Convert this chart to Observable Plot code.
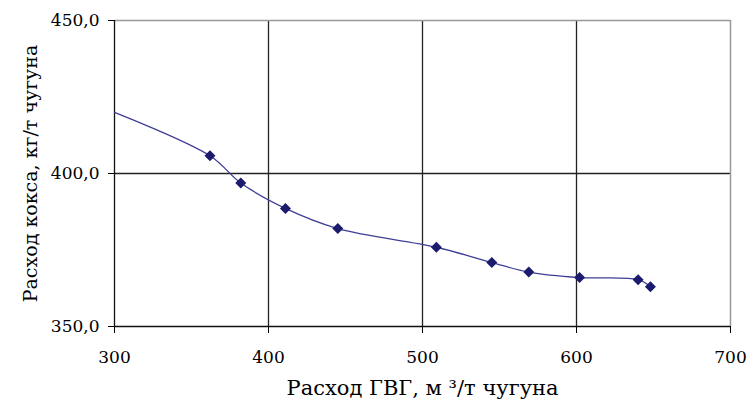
<!DOCTYPE html>
<html>
<head>
<meta charset="utf-8">
<script src="https://cdn.jsdelivr.net/npm/d3@7"></script>
<script src="https://cdn.jsdelivr.net/npm/@observablehq/plot@0.6"></script>
<style>
  html, body { margin: 0; padding: 0; background: #fff; }
</style>
</head>
<body>
<div id="chart"></div>
<script>
// Data
const gvg  = [300, 362, 382, 411, 445, 509, 545, 569, 602, 640, 648];   // Расход ГВГ, м³/т чугуна
const coke = [420, 405.8, 396.9, 388.6, 382, 375.9, 370.9, 367.8, 366, 365.3, 363]; // Расход кокса, кг/т
const markerFrom = 1; // first point is the line start without a marker
const xTicks = [300, 400, 500, 600, 700];
const yTicks = [350, 400, 450];
const xTitle = "Расход ГВГ, м ³/т чугуна";
const yTitle = "Расход кокса, кг/т чугуна";

const data = gvg.map((x, i) => ({x, y: coke[i], marker: i >= markerFrom}));

const chart = Plot.plot({
  width: 747,
  height: 407,
  marginLeft: 114,
  marginRight: 17,
  marginTop: 20,
  marginBottom: 81,
  style: {fontSize: "17px", color: "#000", background: "#fff", fontFamily: "DejaVu Serif"},
  x: {domain: [300, 700]},
  y: {domain: [350, 450]},
  marks: [
    Plot.ruleX(xTicks.slice(1, -1), {stroke: "#222", strokeWidth: 1.3}),
    Plot.ruleY([400], {stroke: "#222", strokeWidth: 1.3}),
    Plot.ruleY([450], {stroke: "#999", strokeWidth: 1.5}),
    Plot.ruleX([700], {stroke: "#999", strokeWidth: 1.5}),
    Plot.axisX({ticks: xTicks, tickFormat: d => String(d), tickSize: 7, tickPadding: 17,
      label: null, stroke: "#000"}),
    Plot.axisY({ticks: yTicks, tickFormat: d => d.toFixed(1).replace(".", ","), tickSize: 6, tickPadding: 9,
      label: null, stroke: "#000"}),
    Plot.text([xTitle], {frameAnchor: "bottom", dy: 62, lineAnchor: "middle", textAnchor: "middle", fontSize: 21, fill: "#000"}),
    Plot.text([yTitle], {frameAnchor: "left", dx: -84, rotate: -90, lineAnchor: "middle", textAnchor: "middle", fontSize: 19, fill: "#000"}),
    Plot.ruleX([300], {stroke: "#111", strokeWidth: 1.3}),
    Plot.ruleY([350], {stroke: "#111", strokeWidth: 1.3}),
    Plot.line(data, {x: "x", y: "y", curve: "catmull-rom", stroke: "#3e3e96", strokeWidth: 1.3}),
    Plot.dot(data.filter(d => d.marker), {x: "x", y: "y", symbol: "diamond2", r: 4, fill: "#1c1c6e", stroke: "#1c1c6e"})
  ]
});
document.getElementById("chart").append(chart);
</script>
</body>
</html>
